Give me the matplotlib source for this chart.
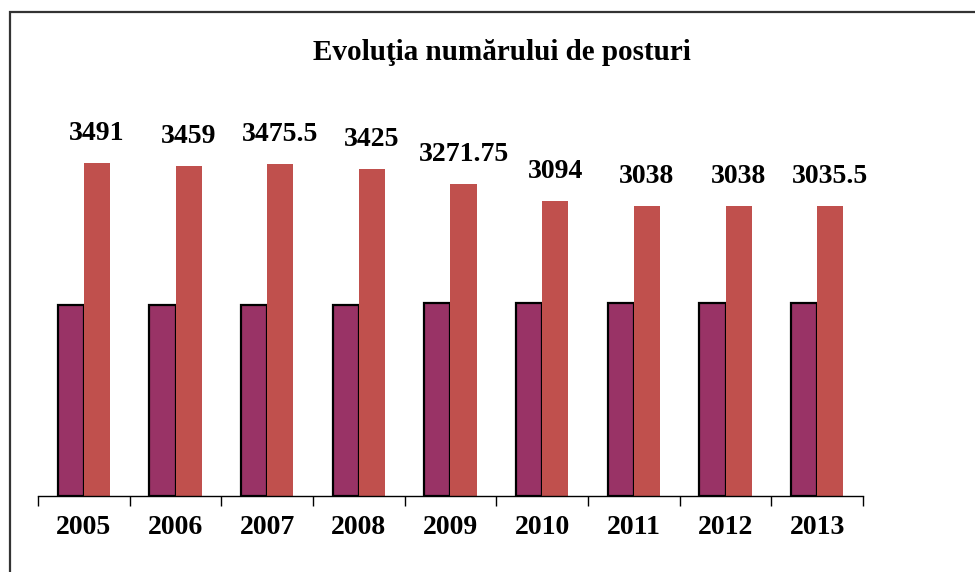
"""
Evolutia numarului de posturi - grouped bar chart
"""

import matplotlib
matplotlib.use('Agg')
import matplotlib.pyplot as plt
import matplotlib.patches as patches
import numpy as np

# Data
years = ['2005', '2006', '2007', '2008', '2009', '2010', '2011', '2012', '2013']
posturi_ocupate = [2005, 2005, 2005, 2005, 2022, 2022, 2022, 2022, 2022]
posturi_total = [3491, 3459, 3475.5, 3425, 3271.75, 3094, 3038, 3038, 3035.5]
value_labels = ['3491', '3459', '3475.5', '3425', '3271.75', '3094', '3038', '3038', '3035.5']

plt.rcParams['font.family'] = ['Liberation Serif', 'DejaVu Serif']

fig = plt.figure(figsize=(9.75, 5.72), dpi=100)
fig.patch.set_facecolor('white')

# outer chart frame (only left and top edges are visible in the reference)
frame = patches.Rectangle((10 / 975, -0.05), 1.2, 0.979 + 0.05,
                          transform=fig.transFigure, fill=False,
                          edgecolor='#333333', linewidth=1.6)
fig.patches.append(frame)

ax = fig.add_axes([38 / 975, 76 / 572, 825 / 975, 382 / 572])

x = np.arange(len(years))
w = 0.285

ax.bar(x - w / 2, posturi_ocupate, width=w, color='#993366',
       edgecolor='black', linewidth=1.6, zorder=3)
bars = ax.bar(x + w / 2, posturi_total, width=w, color='#C0504D',
              linewidth=0, zorder=3)

for rect, lbl in zip(bars, value_labels):
    ax.annotate(lbl, (rect.get_x() + rect.get_width() / 2, rect.get_height()),
                xytext=(0, 12), textcoords='offset points',
                ha='center', va='bottom', fontsize=20, fontweight='bold')

ax.set_xlim(-0.5, len(years) - 0.5)
ax.set_ylim(0, 4000)

for side in ['top', 'right', 'left']:
    ax.spines[side].set_visible(False)
ax.spines['bottom'].set_linewidth(1.0)
ax.spines['bottom'].set_zorder(4)

ax.set_yticks([])
ax.set_xticks(x)
ax.set_xticklabels(years, fontsize=20, fontweight='bold')
ax.tick_params(axis='x', which='major', length=0, pad=14)
ax.set_xticks(np.arange(-0.5, len(years)), minor=True)
ax.tick_params(axis='x', which='minor', length=7, width=1.0, direction='out')

fig.text(502 / 975, 1 - 52 / 572, 'Evoluţia numărului de posturi',
         ha='center', va='center', fontsize=21, fontweight='bold')

plt.savefig('out.png', dpi=100, facecolor='white')
plt.close()
